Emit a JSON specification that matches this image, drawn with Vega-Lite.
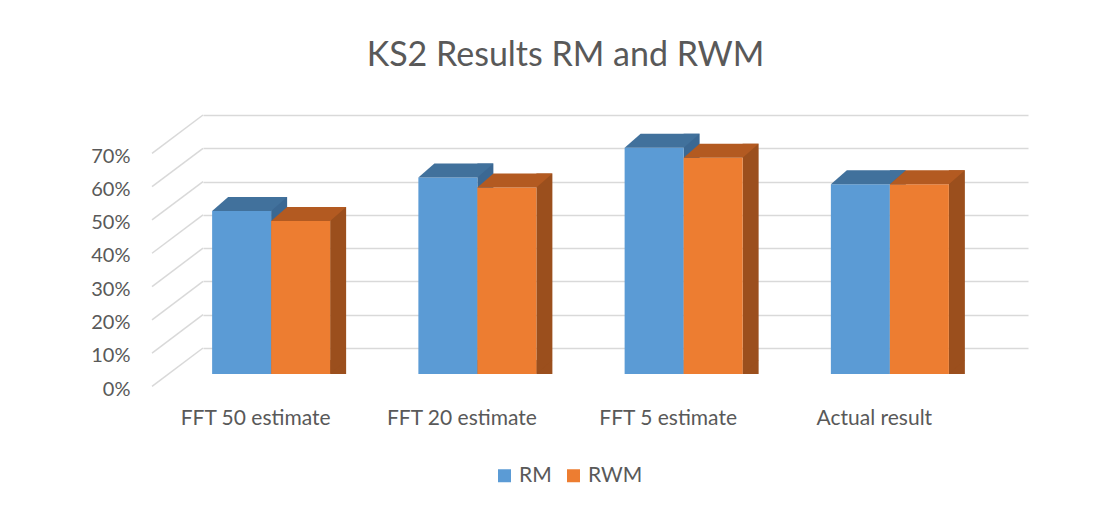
{
  "$schema": "https://vega.github.io/schema/vega-lite/v6.json",
  "width": 825,
  "height": 233,
  "autosize": "none",
  "padding": {"left": 203, "top": 141, "right": 87, "bottom": 135},
  "background": "white",
  "config": {
    "view": {"stroke": null},
    "font": "Lato",
    "axisX": {
      "domain": false,
      "ticks": false,
      "grid": false,
      "labelAngle": 0,
      "labelFont": "Lato",
      "labelFontSize": 21,
      "labelColor": "#595959",
      "labelPadding": 33,
      "labelOffset": -50.5
    },
    "axisY": {
      "domain": false,
      "ticks": false,
      "tickSize": 0,
      "format": ".0%",
      "labelFont": "Lato",
      "labelFontSize": 20,
      "labelColor": "#595959",
      "labelPadding": 73,
      "grid": true,
      "gridColor": "#D9D9D9",
      "gridWidth": 1.5,
      "tickOffset": -26,
      "labelOffset": 41
    },
    "legend": {
      "orient": "none",
      "direction": "horizontal",
      "legendX": 291,
      "legendY": 324,
      "symbolType": "square",
      "symbolSize": 169,
      "symbolStrokeWidth": 0,
      "symbolOpacity": 1,
      "labelFont": "Lato",
      "labelFontSize": 21,
      "labelColor": "#595959",
      "labelOffset": 4,
      "columnPadding": 11
    }
  },
  "title": {
    "text": "KS2 Results RM and RWM",
    "font": "Lato",
    "fontSize": 34,
    "fontWeight": "normal",
    "color": "#595959",
    "anchor": "middle",
    "frame": "group",
    "dx": -50,
    "dy": -39,
    "offset": 0
  },
  "datasets": {
    "results": [
      {"category": "FFT 50 estimate", "series": "RM", "value": 0.49},
      {"category": "FFT 50 estimate", "series": "RWM", "value": 0.46},
      {"category": "FFT 20 estimate", "series": "RM", "value": 0.59},
      {"category": "FFT 20 estimate", "series": "RWM", "value": 0.56},
      {"category": "FFT 5 estimate", "series": "RM", "value": 0.68},
      {"category": "FFT 5 estimate", "series": "RWM", "value": 0.65},
      {"category": "Actual result", "series": "RM", "value": 0.57},
      {"category": "Actual result", "series": "RWM", "value": 0.57}
    ],
    "ticks": [
      {"value": 0}, {"value": 0.1}, {"value": 0.2}, {"value": 0.3},
      {"value": 0.4}, {"value": 0.5}, {"value": 0.6}, {"value": 0.7}
    ]
  },
  "data": {"name": "results"},
  "encoding": {
    "x": {
      "field": "category",
      "type": "nominal",
      "sort": ["FFT 50 estimate", "FFT 20 estimate", "FFT 5 estimate", "Actual result"],
      "scale": {"paddingInner": 0, "paddingOuter": 0},
      "axis": {"title": null}
    }
  },
  "layer": [
    {
      "data": {"name": "ticks"},
      "mark": {"type": "point", "shape": "M-103.1,-26 L-154.1,12.4", "size": 4, "filled": false, "color": "#D9D9D9", "strokeWidth": 1.5, "opacity": 1},
      "encoding": {
        "x": {"datum": "FFT 50 estimate", "type": "nominal", "axis": {"title": null}},
        "y": {"field": "value", "type": "quantitative", "scale": {"domain": [0, 0.7]}, "axis": {"title": null, "values": [0, 0.1, 0.2, 0.3, 0.4, 0.5, 0.6, 0.7]}}
      }
    },
    {
      "transform": [{"filter": "datum.series === 'RM'"}],
      "mark": {"type": "bar", "width": 16, "xOffset": -27, "yOffset": -14, "y2Offset": -14, "color": "#3B6893"},
      "encoding": {
        "y": {"field": "value", "type": "quantitative", "stack": null, "scale": {"domain": [0, 0.7]}, "axis": {"title": null, "values": [0, 0.1, 0.2, 0.3, 0.4, 0.5, 0.6, 0.7]}}
      }
    },
    {
      "transform": [{"filter": "datum.series === 'RM'"}],
      "mark": {"type": "point", "shape": "M29.5,-14 L45.5,-14 L29.5,0 Z", "size": 4, "filled": true, "color": "#3B6893", "opacity": 1, "xOffset": -64.5},
      "encoding": {
        "y": {"datum": 0, "type": "quantitative", "scale": {"domain": [0, 0.7]}, "axis": {"title": null, "values": [0, 0.1, 0.2, 0.3, 0.4, 0.5, 0.6, 0.7]}}
      }
    },
    {
      "transform": [{"filter": "datum.series === 'RM'"}],
      "mark": {"type": "bar", "width": 59, "xOffset": -64.5},
      "encoding": {
        "y": {"field": "value", "type": "quantitative", "stack": null, "scale": {"domain": [0, 0.7]}, "axis": {"title": null, "values": [0, 0.1, 0.2, 0.3, 0.4, 0.5, 0.6, 0.7]}},
        "color": {
          "field": "series",
          "type": "nominal",
          "scale": {"domain": ["RM", "RWM"], "range": ["#5B9BD5", "#ED7D31"]},
          "legend": {"title": null}
        }
      }
    },
    {
      "transform": [{"filter": "datum.series === 'RM'"}],
      "mark": {"type": "point", "shape": "M-29.5,0 L-13.5,-14 L45.5,-14 L29.5,0 Z", "size": 4, "filled": true, "color": "#41719C", "opacity": 1, "xOffset": -64.5},
      "encoding": {
        "y": {"field": "value", "type": "quantitative", "scale": {"domain": [0, 0.7]}, "axis": {"title": null, "values": [0, 0.1, 0.2, 0.3, 0.4, 0.5, 0.6, 0.7]}}
      }
    },
    {
      "transform": [{"filter": "datum.series === 'RWM'"}],
      "mark": {"type": "bar", "width": 16, "xOffset": 32, "yOffset": -14, "y2Offset": -14, "color": "#9B4F1D"},
      "encoding": {
        "y": {"field": "value", "type": "quantitative", "stack": null, "scale": {"domain": [0, 0.7]}, "axis": {"title": null, "values": [0, 0.1, 0.2, 0.3, 0.4, 0.5, 0.6, 0.7]}}
      }
    },
    {
      "transform": [{"filter": "datum.series === 'RWM'"}],
      "mark": {"type": "point", "shape": "M29.5,-14 L45.5,-14 L29.5,0 Z", "size": 4, "filled": true, "color": "#9B4F1D", "opacity": 1, "xOffset": -5.5},
      "encoding": {
        "y": {"datum": 0, "type": "quantitative", "scale": {"domain": [0, 0.7]}, "axis": {"title": null, "values": [0, 0.1, 0.2, 0.3, 0.4, 0.5, 0.6, 0.7]}}
      }
    },
    {
      "transform": [{"filter": "datum.series === 'RWM'"}],
      "mark": {"type": "bar", "width": 59, "xOffset": -5.5},
      "encoding": {
        "y": {"field": "value", "type": "quantitative", "stack": null, "scale": {"domain": [0, 0.7]}, "axis": {"title": null, "values": [0, 0.1, 0.2, 0.3, 0.4, 0.5, 0.6, 0.7]}},
        "color": {
          "field": "series",
          "type": "nominal",
          "scale": {"domain": ["RM", "RWM"], "range": ["#5B9BD5", "#ED7D31"]},
          "legend": {"title": null}
        }
      }
    },
    {
      "transform": [{"filter": "datum.series === 'RWM'"}],
      "mark": {"type": "point", "shape": "M-29.5,0 L-13.5,-14 L45.5,-14 L29.5,0 Z", "size": 4, "filled": true, "color": "#B35A21", "opacity": 1, "xOffset": -5.5},
      "encoding": {
        "y": {"field": "value", "type": "quantitative", "scale": {"domain": [0, 0.7]}, "axis": {"title": null, "values": [0, 0.1, 0.2, 0.3, 0.4, 0.5, 0.6, 0.7]}}
      }
    }
  ]
}
